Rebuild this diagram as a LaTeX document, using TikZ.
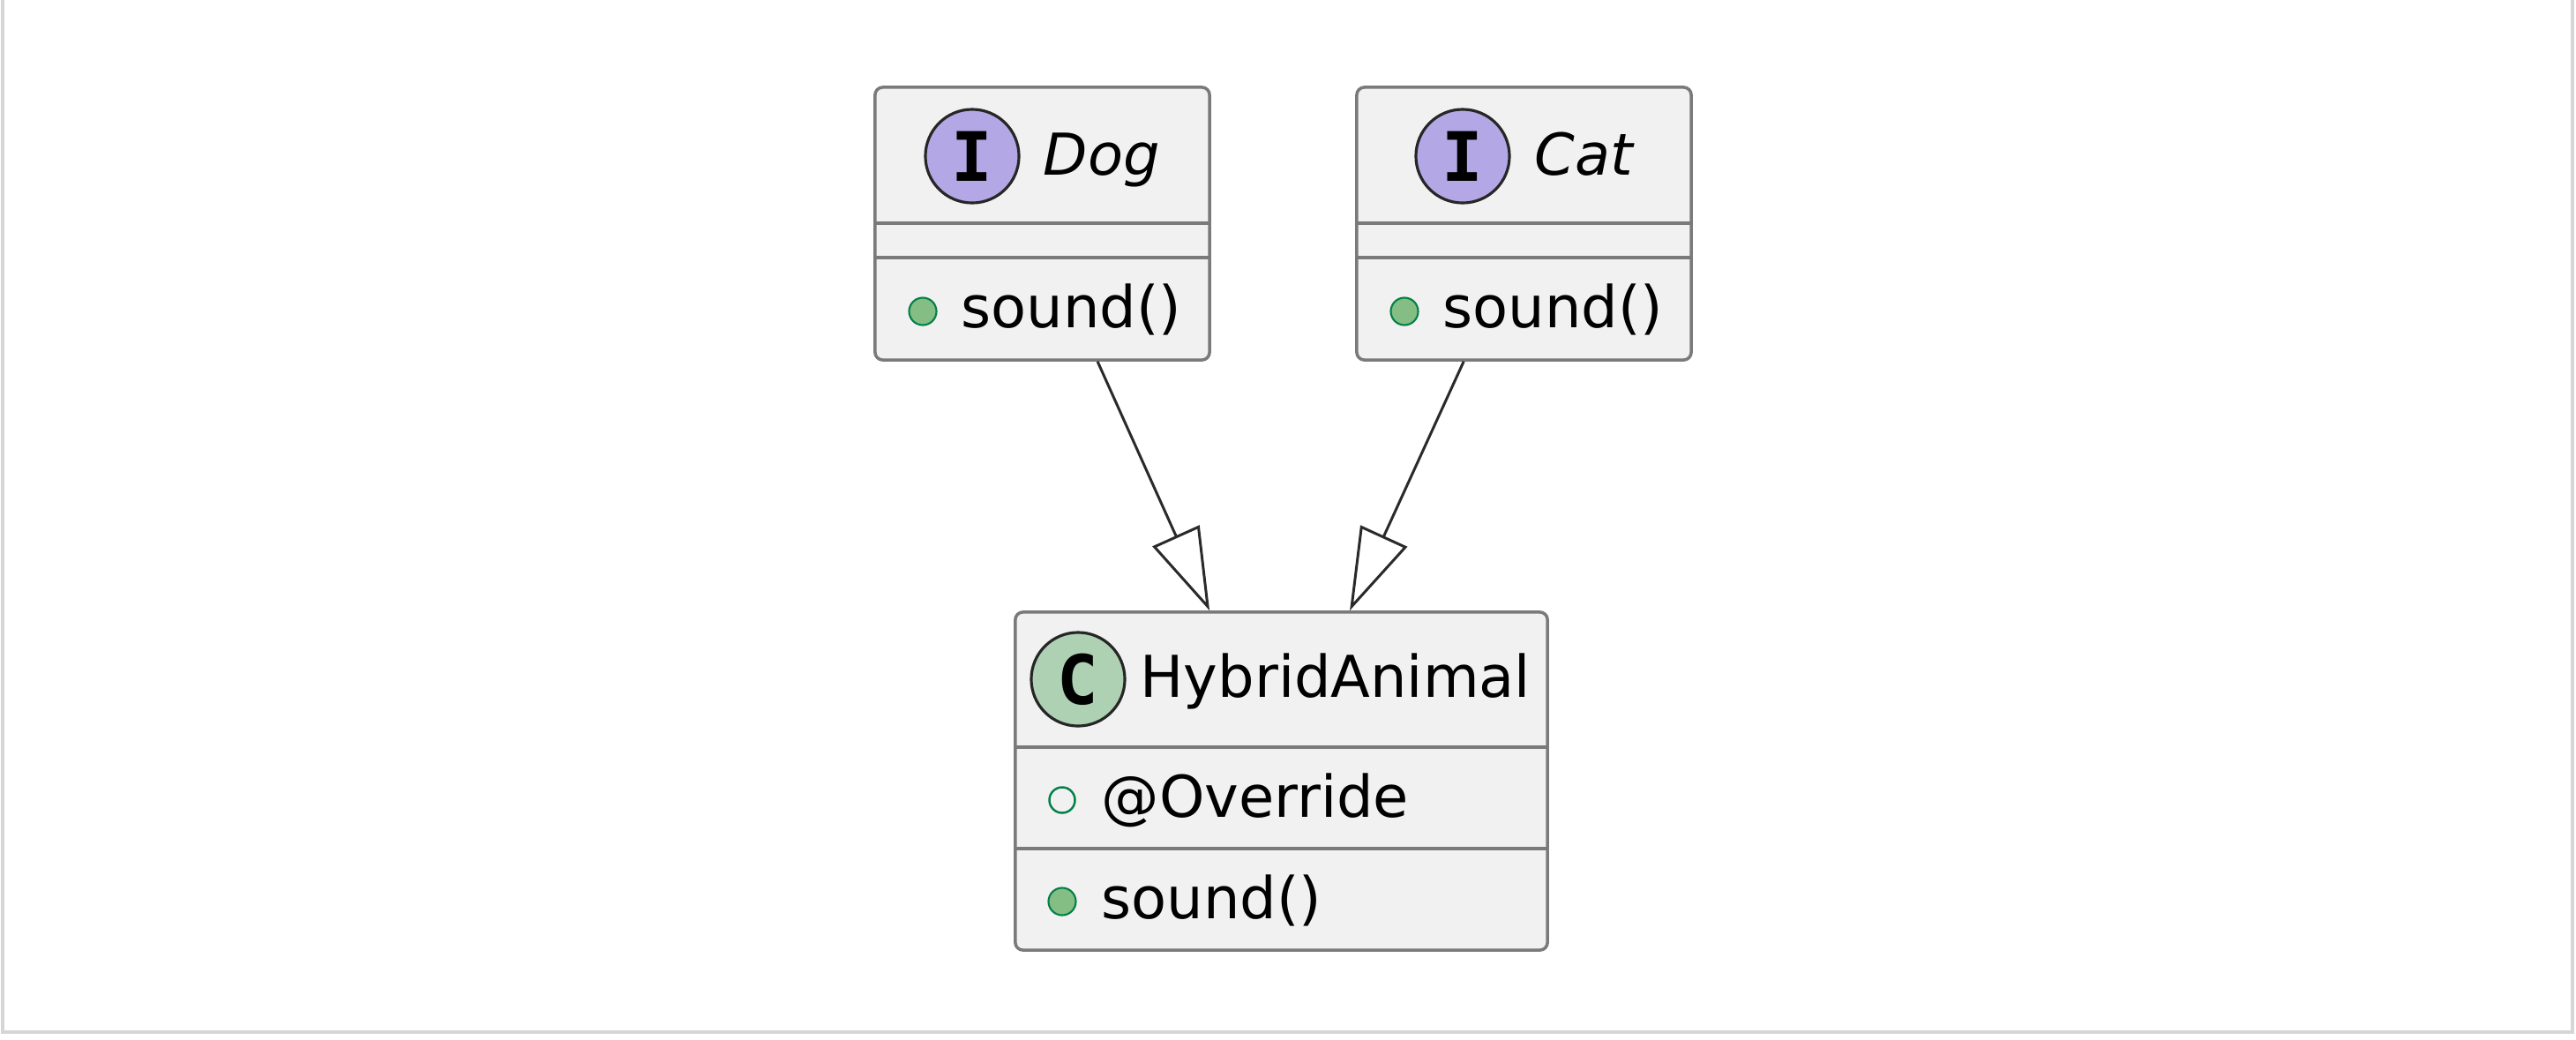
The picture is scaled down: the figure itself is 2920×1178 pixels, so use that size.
\documentclass[tikz,border=0pt]{standalone}
\usepackage{fontspec}
\setmainfont{DejaVu Sans}
\newfontfamily\letterfont{DejaVu Sans Mono}
\usetikzlibrary{arrows.meta,calc}
\definecolor{boxfill}{HTML}{F1F1F1}
\definecolor{boxline}{HTML}{7A7A7A}
\definecolor{ifacefill}{HTML}{B4A7E5}
\definecolor{classfill}{HTML}{ADD1B2}
\definecolor{dotfill}{HTML}{84BE84}
\definecolor{dotline}{HTML}{038048}
\definecolor{edgecol}{HTML}{2A2A2A}
\definecolor{framecol}{HTML}{D6D6D6}
\tikzset{
  umlbox/.style={draw=boxline, fill=boxfill, line width=1pt, rounded corners=2.5pt, inner sep=0pt},
  divider/.style={draw=boxline, line width=1pt},
  badge/.style={circle, draw=black!85, line width=0.9pt, minimum size=1.06cm, inner sep=0pt, font=\letterfont\bfseries\fontsize{22pt}{22pt}\selectfont},
  txt/.style={anchor=base west, inner sep=0pt, font=\fontsize{18.6pt}{22pt}\selectfont},
  pubdot/.style={circle, draw=dotline, fill=dotfill, line width=0.6pt, minimum size=0.31cm, inner sep=0pt},
  pubring/.style={circle, draw=dotline, fill=none, line width=0.7pt, minimum size=0.29cm, inner sep=0pt},
  inh/.style={draw=edgecol, line width=0.85pt, -{Triangle[open, length=0.93cm, width=0.58cm, line width=0.85pt]}}
}
\begin{document}
\begin{tikzpicture}[x=0.01cm, y=-0.01cm]
\path[use as bounding box, fill=white] (0,0) rectangle (2920,1178);
\draw[framecol, line width=1pt] (3,0) -- (3,1170) -- (2916,1170) -- (2916,0);
% boxes
\node[umlbox, minimum width=3.79cm, minimum height=3.09cm] (dog) at (1181.5,253.5) {};
\node[umlbox, minimum width=3.79cm, minimum height=3.09cm] (cat) at (1727.5,253.5) {};
\node[umlbox, minimum width=6.03cm, minimum height=3.83cm] (hybrid) at (1452.5,885.5) {};
% dividers
\draw[divider] (992,253) -- (1371,253);
\draw[divider] (992,292) -- (1371,292);
\draw[divider] (1538,253) -- (1917,253);
\draw[divider] (1538,292) -- (1917,292);
\draw[divider] (1151,847) -- (1754,847);
\draw[divider] (1151,962) -- (1754,962);
% headers
\node[badge, fill=ifacefill] (dogI) at (1102,177) {I};
\node[txt, font=\itshape\fontsize{18.6pt}{22pt}\selectfont] (dogname) at (1182,198) {Dog};
\node[badge, fill=ifacefill] (catI) at (1658,177) {I};
\node[txt, font=\itshape\fontsize{18.6pt}{22pt}\selectfont] (catname) at (1739,198) {Cat};
\node[badge, fill=classfill] (hybC) at (1222,770) {C};
\node[txt] (hybname) at (1292,790) {HybridAnimal};
% members
\node[pubdot] (dogdot) at (1046,353) {};
\node[txt] (dogsound) at (1089,371) {sound()};
\node[pubdot] (catdot) at (1592,353) {};
\node[txt] (catsound) at (1635,371) {sound()};
\node[pubring] (hybring) at (1204,907) {};
\node[txt] (hybover) at (1248,926) {@Override};
\node[pubdot] (hybdot) at (1204,1022) {};
\node[txt] (hybsound) at (1248,1041) {sound()};
% connectors
\draw[inh] ($(dog.south west)+(254,0)$) -- ($(hybrid.north west)+(222,0)$);
\draw[inh] ($(cat.south west)+(123,0)$) -- ($(hybrid.north west)+(381,0)$);
\end{tikzpicture}
\end{document}
